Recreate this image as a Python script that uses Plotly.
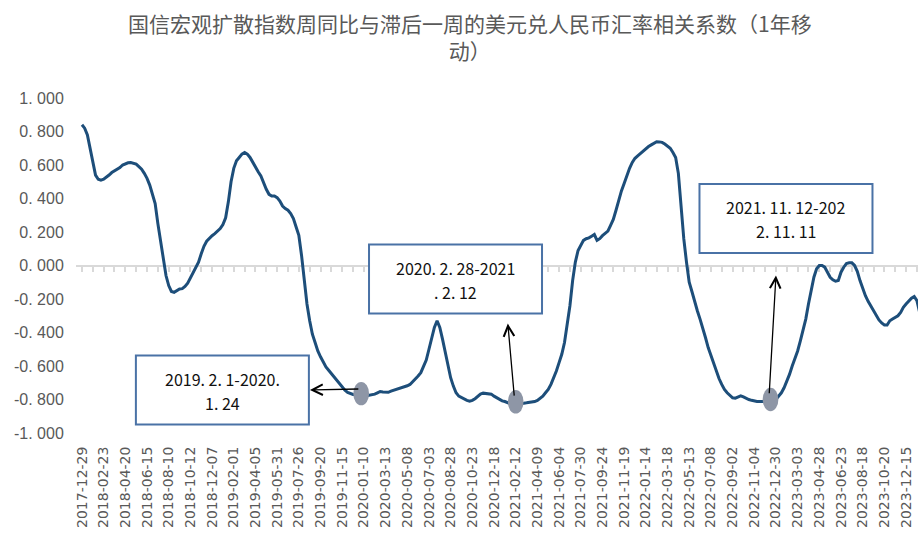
import plotly.graph_objects as go

# ---- data ----
tick_labels = [
    "2017-12-29", "2018-02-23", "2018-04-20", "2018-06-15", "2018-08-10", "2018-10-12",
    "2018-12-07", "2019-02-01", "2019-04-05", "2019-05-31", "2019-07-26", "2019-09-20",
    "2019-11-15", "2020-01-10", "2020-03-13", "2020-05-08", "2020-07-03", "2020-08-28",
    "2020-10-23", "2020-12-18", "2021-02-12", "2021-04-09", "2021-06-04", "2021-07-30",
    "2021-09-24", "2021-11-19", "2022-01-14", "2022-03-18", "2022-05-13", "2022-07-08",
    "2022-09-02", "2022-11-04", "2022-12-30", "2023-03-03", "2023-04-28", "2023-06-23",
    "2023-08-18", "2023-10-20", "2023-12-15",
]
label_step = 8  # one label every 8 weekly observations

corr = [
    0.84, 0.82, 0.78, 0.70, 0.60, 0.54, 0.515, 0.51, 0.515, 0.525,
    0.54, 0.555, 0.565, 0.57, 0.585, 0.60, 0.607, 0.613, 0.615, 0.61,
    0.605, 0.59, 0.575, 0.55, 0.52, 0.48, 0.43, 0.37, 0.25, 0.14,
    0.03, -0.06, -0.12, -0.155, -0.16, -0.15, -0.14, -0.138, -0.125, -0.105,
    -0.075, -0.045, -0.01, 0.02, 0.07, 0.115, 0.145, 0.165, 0.178, 0.19,
    0.205, 0.22, 0.245, 0.285, 0.38, 0.50, 0.58, 0.625, 0.645, 0.665,
    0.675, 0.665, 0.645, 0.615, 0.59, 0.56, 0.535, 0.49, 0.455, 0.425,
    0.415, 0.415, 0.405, 0.385, 0.355, 0.34, 0.33, 0.31, 0.28, 0.23,
    0.18, 0.06, -0.10, -0.23, -0.33, -0.41, -0.46, -0.51, -0.545, -0.575,
    -0.605, -0.625, -0.645, -0.67, -0.69, -0.71, -0.73, -0.745, -0.758, -0.765,
    -0.77, -0.772, -0.775, -0.777, -0.778, -0.778, -0.775, -0.77, -0.768, -0.76,
    -0.752, -0.755, -0.758, -0.757, -0.75, -0.745, -0.74, -0.735, -0.73, -0.725,
    -0.718, -0.71, -0.695, -0.68, -0.66, -0.64, -0.60, -0.565, -0.50, -0.44,
    -0.37, -0.33, -0.37, -0.44, -0.52, -0.60, -0.67, -0.72, -0.76, -0.78,
    -0.79, -0.798, -0.805, -0.81, -0.805, -0.795, -0.78, -0.768, -0.762, -0.765,
    -0.766, -0.768, -0.78, -0.79, -0.80, -0.808, -0.812, -0.82, -0.826, -0.826,
    -0.826, -0.826, -0.825, -0.822, -0.82, -0.818, -0.815, -0.812, -0.805, -0.795,
    -0.78, -0.76, -0.74, -0.71, -0.675, -0.63, -0.58, -0.53, -0.46, -0.36,
    -0.24, -0.09, 0.02, 0.09, 0.125, 0.15, 0.16, 0.165, 0.175, 0.185,
    0.15, 0.16, 0.178, 0.19, 0.205, 0.24, 0.275, 0.33, 0.39, 0.445,
    0.49, 0.54, 0.58, 0.615, 0.64, 0.655, 0.67, 0.682, 0.695, 0.71,
    0.72, 0.73, 0.739, 0.738, 0.735, 0.725, 0.71, 0.70, 0.675, 0.645,
    0.55, 0.35, 0.16, 0.02, -0.10, -0.155, -0.22, -0.27, -0.32, -0.37,
    -0.43, -0.49, -0.535, -0.58, -0.635, -0.675, -0.71, -0.74, -0.76, -0.775,
    -0.79, -0.792, -0.785, -0.778, -0.785, -0.795, -0.80, -0.805, -0.81, -0.812,
    -0.812, -0.812, -0.812, -0.812, -0.812, -0.812, -0.80, -0.78, -0.76, -0.73,
    -0.695, -0.65, -0.60, -0.56, -0.51, -0.45, -0.38, -0.32, -0.23, -0.145,
    -0.07, -0.02, 0.0, 0.0, -0.01, -0.04, -0.07, -0.085, -0.094, -0.09,
    -0.04, -0.01, 0.012, 0.016, 0.016, 0.0, -0.035, -0.09, -0.14, -0.18,
    -0.214, -0.24, -0.27, -0.30, -0.325, -0.343, -0.355, -0.355, -0.33, -0.32,
    -0.31, -0.30, -0.28, -0.25, -0.23, -0.21, -0.195, -0.185, -0.21, -0.28,
    -0.34,
]

y_tick_vals = [1.0, 0.8, 0.6, 0.4, 0.2, 0.0, -0.2, -0.4, -0.6, -0.8, -1.0]
y_tick_text = ["1. 000", "0. 800", "0. 600", "0. 400", "0. 200", "0. 000",
               "-0. 200", "-0. 400", "-0. 600", "-0. 800", "-1. 000"]

title_text = "国信宏观扩散指数周同比与滞后一周的美元兑人民币汇率相关系数（1年移<br>动）"

# highlighted periods (ellipse index, label lines, box centre, arrow head)
highlight_idx = [103, 160, 254]
box_lines = [("2019. 2. 1-2020.", "1. 24"),
             ("2020. 2. 28-2021", ". 2. 12"),
             ("2021. 11. 12-202", "2. 11. 11")]
box_centers = [(51.8, -0.743), (137.8, -0.081), (259.7, 0.281)]
arrow_heads = [(84.1, -0.743), (157.1, -0.347), (256.0, -0.06)]

# ---- figure ----
X_RANGE = [-2.2, 308.4]
PLOT_W, PLOT_H = 842, 335
px_per_x = PLOT_W / (X_RANGE[1] - X_RANGE[0])
px_per_y = PLOT_H / 2.0

x_idx = list(range(len(corr)))
tick_vals = [k * label_step for k in range(len(tick_labels))]

fig = go.Figure()
fig.add_trace(go.Scatter(
    x=x_idx, y=corr, mode="lines",
    line=dict(color="#1D4E7A", width=3),
    hoverinfo="skip", showlegend=False,
))
# invisible trace to anchor the zero-line axis
fig.add_trace(go.Scatter(
    x=[0], y=[0], xaxis="x2", yaxis="y", mode="markers",
    marker=dict(opacity=0), hoverinfo="skip", showlegend=False,
))

shapes = []
for i in highlight_idx:
    v = corr[i] + 0.012
    shapes.append(dict(
        type="circle", xref="x", yref="y",
        x0=i - 2.9, x1=i + 2.9, y0=v - 0.07, y1=v + 0.07,
        fillcolor="#8E96A6", line=dict(width=0), layer="above",
    ))
box_hw = 86.5 / px_per_x
box_hh = 34.5 / px_per_y
for cx, cy in box_centers:
    shapes.append(dict(
        type="rect", xref="x", yref="y",
        x0=cx - box_hw, x1=cx + box_hw, y0=cy - box_hh, y1=cy + box_hh,
        fillcolor="#FFFFFF", line=dict(color="#4A72A6", width=2), layer="above",
    ))

annotations = []
annotations.append(dict(
    x=(470 - 76) / 842, y=(433 - 6) / 335, xref="paper", yref="paper",
    xanchor="center", yanchor="top", showarrow=False, align="center",
    text=title_text,
    font=dict(family="Noto Sans CJK SC, sans-serif", size=21, color="#595959"),
))
for i, (hx, hy) in zip(highlight_idx, arrow_heads):
    annotations.append(dict(
        x=hx, y=hy, xref="x", yref="y",
        ax=i - 0.5, ay=corr[i] + 0.04, axref="x", ayref="y",
        text="", showarrow=True, arrowhead=5, arrowsize=1.6,
        arrowwidth=1.3, arrowcolor="#000000", standoff=0, startstandoff=0,
    ))
for (l1, l2), (cx, cy) in zip(box_lines, box_centers):
    for txt, shift in ((l1, 11), (l2, -13)):
        annotations.append(dict(
            x=cx, y=cy, xref="x", yref="y", text=txt, showarrow=False,
            xanchor="center", yanchor="middle", yshift=shift,
            font=dict(family="Noto Sans CJK SC, sans-serif", size=16, color="#111111"),
        ))

fig.update_layout(
    width=918, height=542,
    margin=dict(l=76, r=0, t=98, b=109),
    paper_bgcolor="#FFFFFF", plot_bgcolor="#FFFFFF",
    xaxis=dict(
        range=X_RANGE, tickmode="array", tickvals=tick_vals, ticktext=tick_labels,
        tickangle=-90, showgrid=False, zeroline=False, showline=False,
        ticks="outside", ticklen=7, tickcolor="rgba(0,0,0,0)",
        tickfont=dict(family="DejaVu Sans, sans-serif", size=14, color="#595959"),
    ),
    xaxis2=dict(
        overlaying="x", matches="x", anchor="free", position=0.5, side="bottom",
        showline=True, linecolor="#D9D9D9", linewidth=2,
        ticks="outside", ticklen=5, tickwidth=2, tickcolor="#D9D9D9",
        tickmode="linear", tick0=0, dtick=4, showticklabels=False,
        showgrid=False, zeroline=False, layer="below traces",
    ),
    yaxis=dict(
        range=[-1, 1], tickmode="array", tickvals=y_tick_vals, ticktext=y_tick_text,
        showgrid=False, zeroline=False, showline=False,
        ticks="outside", ticklen=8, tickcolor="rgba(0,0,0,0)",
        tickfont=dict(family="Liberation Sans, Arial, sans-serif", size=16, color="#595959"),
    ),
    shapes=shapes,
    annotations=annotations,
)

fig.write_html("out.html")
